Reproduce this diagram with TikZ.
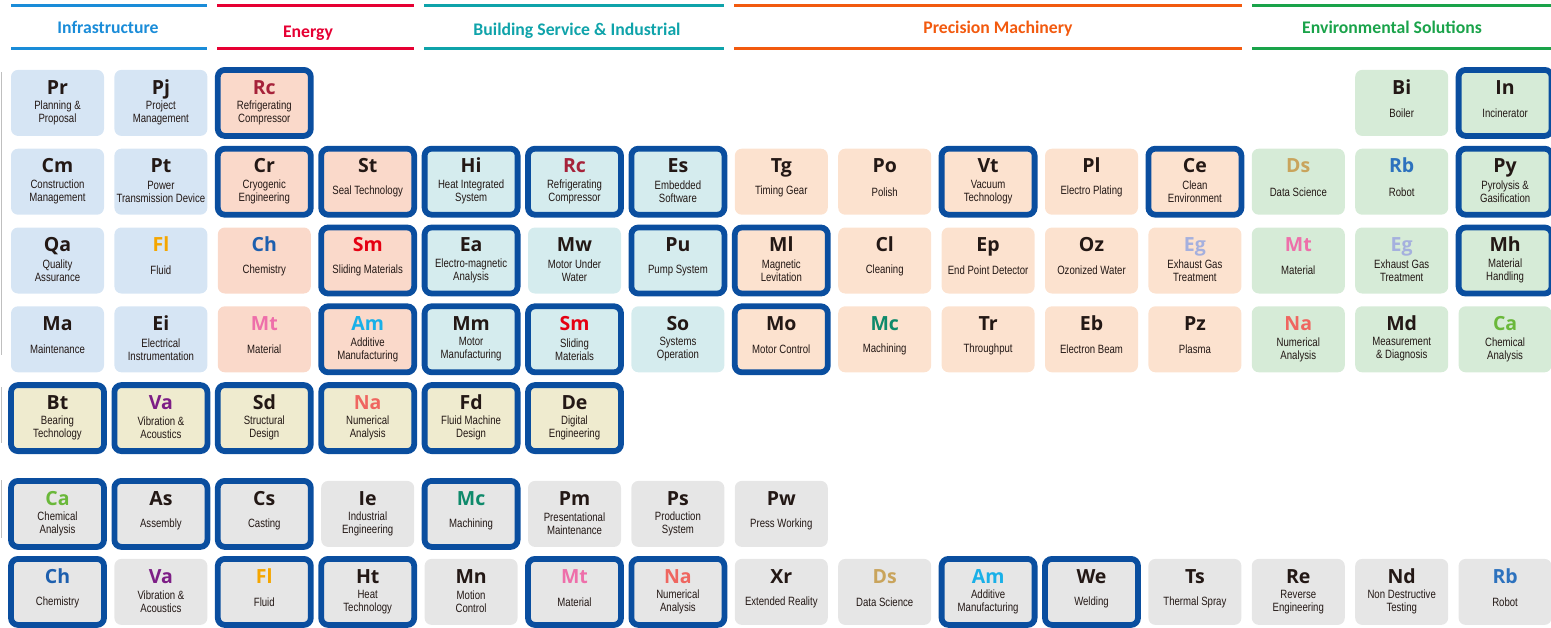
\documentclass[tikz,border=0pt]{standalone}
\usepackage{fontspec}
\setmainfont{Liberation Sans}
\newfontfamily\abbrfont{Open Sans}
\newfontfamily\descfont[FakeStretch=0.8]{Liberation Sans}
\newfontfamily\headfont{Carlito}
\usetikzlibrary{positioning}

\definecolor{dk}{HTML}{231815}
\definecolor{hl}{HTML}{0A4E9F}
\definecolor{cin}{HTML}{1A8CD8}
\definecolor{cen}{HTML}{E60033}
\definecolor{cbs}{HTML}{0FA3AA}
\definecolor{cpm}{HTML}{F25A0F}
\definecolor{cev}{HTML}{1AA34A}
\definecolor{fin}{HTML}{D6E5F4}
\definecolor{fen}{HTML}{FAD9CA}
\definecolor{fbs}{HTML}{D5ECEE}
\definecolor{fpm}{HTML}{FCE2CF}
\definecolor{fev}{HTML}{D6EBD7}
\definecolor{fyl}{HTML}{EFEBCF}
\definecolor{fgr}{HTML}{E6E6E6}
\definecolor{rc}{HTML}{A6223A}
\definecolor{fl}{HTML}{F5A600}
\definecolor{ch}{HTML}{1D5FAE}
\definecolor{sm}{HTML}{E50012}
\definecolor{mt}{HTML}{EE6FAA}
\definecolor{am}{HTML}{19B0E8}
\definecolor{mc}{HTML}{0E8A6B}
\definecolor{na}{HTML}{EF6660}
\definecolor{ca}{HTML}{6AB83A}
\definecolor{va}{HTML}{7D1E86}
\definecolor{ds}{HTML}{C9A45C}
\definecolor{rb}{HTML}{2D72BE}
\definecolor{eg}{HTML}{A5B0DE}

\tikzset{
  tile/.style={rounded corners=7pt, minimum width=93pt, minimum height=66pt, inner sep=0pt, line width=5.8pt, anchor=north},
  abbr/.style={font=\abbrfont\bfseries\fontsize{19.5}{22}\selectfont, inner sep=0pt, anchor=base},
  desc/.style={font=\descfont\fontsize{12}{13}\selectfont, text=dk, align=center, inner sep=0pt},
  head/.style={font=\headfont\bfseries\fontsize{17.7}{20}\selectfont, inner sep=0pt, anchor=base},
  bar/.style={line width=3pt},
}

\newcommand{\tile}[7]{%
  \pgfmathsetmacro{\tx}{57.5+103.4*#1}%
  \pgfmathsetmacro{\ty}{{67,145.8,224.6,303.4,382.2,478,556}[#2]}%
  \node[tile, fill=#6, draw=#7] (t#2-#1) at (\tx,\ty) {};
  \node[abbr, text=#4] (a#2-#1) at (\tx,{\ty+27}) {#3};
  \node[desc] (d#2-#1) at (\tx,{\ty+46}) {#5};
}

\begin{document}
\begin{tikzpicture}[x=1pt, y=-1pt]
\useasboundingbox (0,0) rectangle (1551,627);

\foreach \nm/\xa/\xb/\lx/\ly/\hc/\lab in {infra/11/207/108/33.3/cin/Infrastructure,
    energy/217/414/308/37.7/cen/Energy,
    bsi/424/724/577/35/cbs/{Building Service \& Industrial},
    prec/734/1242/998/33.3/cpm/Precision Machinery,
    env/1252/1551/1392/33.3/cev/Environmental Solutions} {
  \draw[bar, draw=\hc] (\xa,5) -- (\xb,5);
  \draw[bar, draw=\hc] (\xa,48) -- (\xb,48);
  \node[head, text=\hc] (h-\nm) at (\lx,\ly) {\lab};
}

\draw[black!25, line width=0.8pt] (1.5,72) -- (1.5,355);
\draw[black!25, line width=0.8pt] (1.5,387) -- (1.5,443);
\draw[black!25, line width=0.8pt] (1.5,480) -- (1.5,538);

\foreach \cl/\ab/\ac/\txt/\bg/\fr in {0/Pr/dk/{Planning \&\\Proposal}/fin/none,
    1/Pj/dk/{Project\\Management}/fin/none,
    2/Rc/rc/{Refrigerating\\Compressor}/fen/hl,
    13/Bi/dk/{Boiler}/fev/none,
    14/In/dk/{Incinerator}/fev/hl}
  {\tile{\cl}{0}{\ab}{\ac}{\txt}{\bg}{\fr}}

\foreach \cl/\ab/\ac/\txt/\bg/\fr in {0/Cm/dk/{Construction\\Management}/fin/none,
    1/Pt/dk/{Power\\Transmission Device}/fin/none,
    2/Cr/dk/{Cryogenic\\Engineering}/fen/hl,
    3/St/dk/{Seal Technology}/fen/hl,
    4/Hi/dk/{Heat Integrated\\System}/fbs/hl,
    5/Rc/rc/{Refrigerating\\Compressor}/fbs/hl,
    6/Es/dk/{Embedded\\Software}/fbs/hl,
    7/Tg/dk/{Timing Gear}/fpm/none,
    8/Po/dk/{Polish}/fpm/none,
    9/Vt/dk/{Vacuum\\Technology}/fpm/hl,
    10/Pl/dk/{Electro Plating}/fpm/none,
    11/Ce/dk/{Clean\\Environment}/fpm/hl,
    12/Ds/ds/{Data Science}/fev/none,
    13/Rb/rb/{Robot}/fev/none,
    14/Py/dk/{Pyrolysis \&\\Gasification}/fev/hl}
  {\tile{\cl}{1}{\ab}{\ac}{\txt}{\bg}{\fr}}

\foreach \cl/\ab/\ac/\txt/\bg/\fr in {0/Qa/dk/{Quality\\Assurance}/fin/none,
    1/Fl/fl/{Fluid}/fin/none,
    2/Ch/ch/{Chemistry}/fen/none,
    3/Sm/sm/{Sliding Materials}/fen/hl,
    4/Ea/dk/{Electro-magnetic\\Analysis}/fbs/hl,
    5/Mw/dk/{Motor Under\\Water}/fbs/none,
    6/Pu/dk/{Pump System}/fbs/hl,
    7/Ml/dk/{Magnetic\\Levitation}/fpm/hl,
    8/Cl/dk/{Cleaning}/fpm/none,
    9/Ep/dk/{End Point Detector}/fpm/none,
    10/Oz/dk/{Ozonized Water}/fpm/none,
    11/Eg/eg/{Exhaust Gas\\Treatment}/fpm/none,
    12/Mt/mt/{Material}/fev/none,
    13/Eg/eg/{Exhaust Gas\\Treatment}/fev/none,
    14/Mh/dk/{Material\\Handling}/fev/hl}
  {\tile{\cl}{2}{\ab}{\ac}{\txt}{\bg}{\fr}}

\foreach \cl/\ab/\ac/\txt/\bg/\fr in {0/Ma/dk/{Maintenance}/fin/none,
    1/Ei/dk/{Electrical\\Instrumentation}/fin/none,
    2/Mt/mt/{Material}/fen/none,
    3/Am/am/{Additive\\Manufacturing}/fen/hl,
    4/Mm/dk/{Motor\\Manufacturing}/fbs/hl,
    5/Sm/sm/{Sliding\\Materials}/fbs/hl,
    6/So/dk/{Systems\\Operation}/fbs/none,
    7/Mo/dk/{Motor Control}/fpm/hl,
    8/Mc/mc/{Machining}/fpm/none,
    9/Tr/dk/{Throughput}/fpm/none,
    10/Eb/dk/{Electron Beam}/fpm/none,
    11/Pz/dk/{Plasma}/fpm/none,
    12/Na/na/{Numerical\\Analysis}/fev/none,
    13/Md/dk/{Measurement\\\& Diagnosis}/fev/none,
    14/Ca/ca/{Chemical\\Analysis}/fev/none}
  {\tile{\cl}{3}{\ab}{\ac}{\txt}{\bg}{\fr}}

\foreach \cl/\ab/\ac/\txt in {0/Bt/dk/{Bearing\\Technology},
    1/Va/va/{Vibration \&\\Acoustics},
    2/Sd/dk/{Structural\\Design},
    3/Na/na/{Numerical\\Analysis},
    4/Fd/dk/{Fluid Machine\\Design},
    5/De/dk/{Digital\\Engineering}}
  {\tile{\cl}{4}{\ab}{\ac}{\txt}{fyl}{hl}}

\foreach \cl/\ab/\ac/\txt/\fr in {0/Ca/ca/{Chemical\\Analysis}/hl,
    1/As/dk/{Assembly}/hl,
    2/Cs/dk/{Casting}/hl,
    3/Ie/dk/{Industrial\\Engineering}/none,
    4/Mc/mc/{Machining}/hl,
    5/Pm/dk/{Presentational\\Maintenance}/none,
    6/Ps/dk/{Production\\System}/none,
    7/Pw/dk/{Press Working}/none}
  {\tile{\cl}{5}{\ab}{\ac}{\txt}{fgr}{\fr}}

\foreach \cl/\ab/\ac/\txt/\fr in {0/Ch/ch/{Chemistry}/hl,
    1/Va/va/{Vibration \&\\Acoustics}/none,
    2/Fl/fl/{Fluid}/hl,
    3/Ht/dk/{Heat\\Technology}/hl,
    4/Mn/dk/{Motion\\Control}/none,
    5/Mt/mt/{Material}/hl,
    6/Na/na/{Numerical\\Analysis}/hl,
    7/Xr/dk/{Extended Reality}/none,
    8/Ds/ds/{Data Science}/none,
    9/Am/am/{Additive\\Manufacturing}/hl,
    10/We/dk/{Welding}/hl,
    11/Ts/dk/{Thermal Spray}/none,
    12/Re/dk/{Reverse\\Engineering}/none,
    13/Nd/dk/{Non Destructive\\Testing}/none,
    14/Rb/rb/{Robot}/none}
  {\tile{\cl}{6}{\ab}{\ac}{\txt}{fgr}{\fr}}

\end{tikzpicture}
\end{document}
